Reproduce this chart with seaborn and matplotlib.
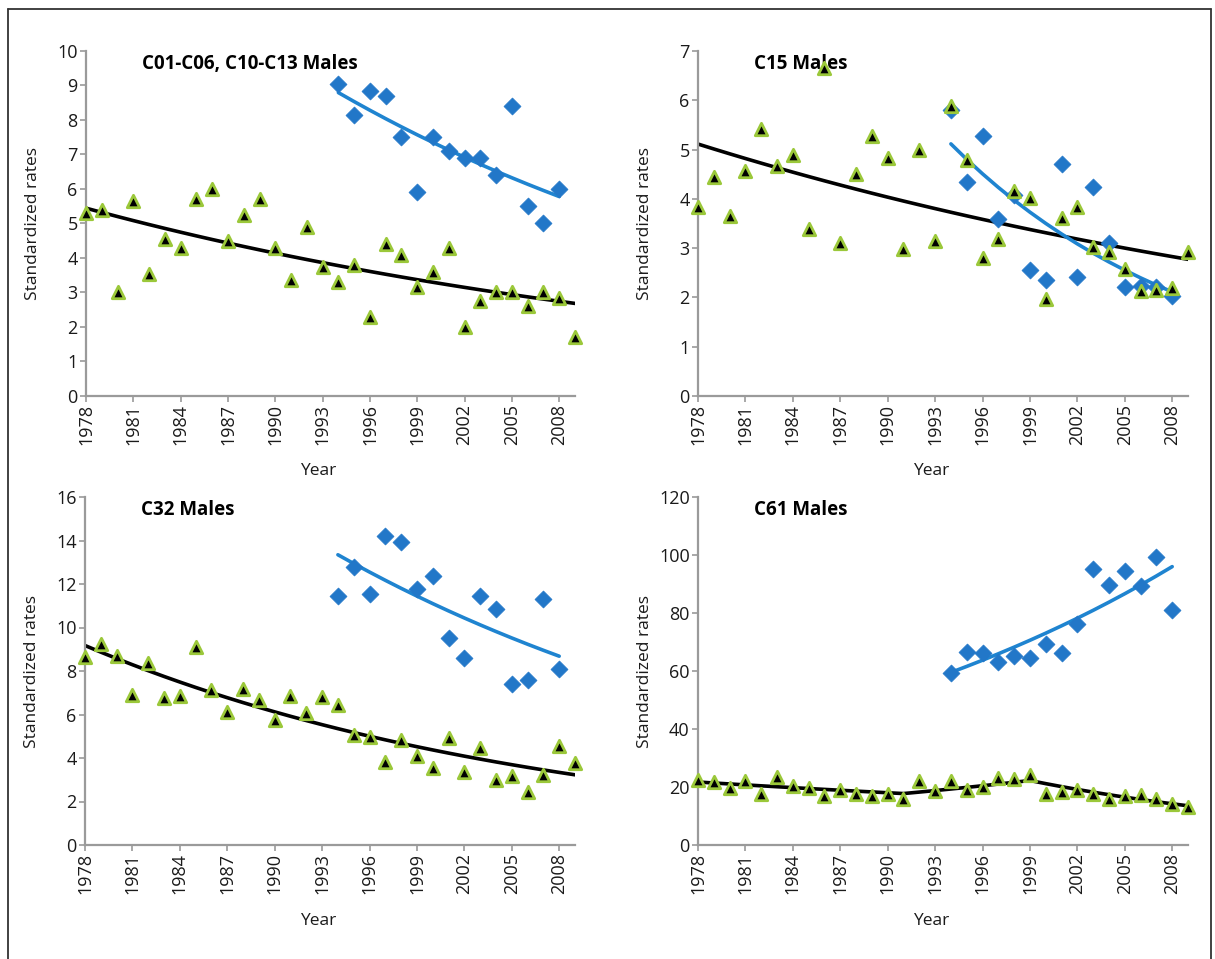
import numpy as np
import pandas as pd
import matplotlib
matplotlib.use("Agg")
import matplotlib.pyplot as plt
import seaborn as sns
from matplotlib.lines import Line2D

# ---------------- data ----------------
years_all = list(range(1978, 2010))
years_recent = list(range(1994, 2009))

titles = ["C01-C06, C10-C13 Males", "C15 Males", "C32 Males", "C61 Males"]

c01_all = [5.3, 5.4, 3.0, 5.65, 3.55, 4.55, 4.3, 5.7, 6.0, 4.5, 5.25, 5.7, 4.3, 3.35, 4.9, 3.75,
           3.3, 3.8, 2.3, 4.4, 4.1, 3.15, 3.6, 4.3, 2.0, 2.75, 3.0, 3.0, 2.6, 3.0, 2.85, 1.7]
c01_recent = [9.05, 8.15, 8.85, 8.7, 7.5, 5.9, 7.5, 7.1, 6.9, 6.9, 6.4, 8.4, 5.5, 5.0, 6.0]

c15_all = [3.83, 4.44, 3.65, 4.57, 5.42, 4.66, 4.88, 3.38, 6.65, 3.11, 4.5, 5.27, 4.82, 2.99, 5.0, 3.14,
           5.88, 4.79, 2.8, 3.18, 4.15, 4.02, 1.97, 3.62, 3.83, 3.02, 2.93, 2.58, 2.14, 2.15, 2.2, 2.93]
c15_recent = [5.81, 4.34, 5.28, 3.59, 4.07, 2.56, 2.36, 4.7, 2.41, 4.25, 3.11, 2.22, 2.24, 2.21, 2.02]

c32_all = [8.64, 9.23, 8.7, 6.88, 8.35, 6.77, 6.83, 9.09, 7.11, 6.1, 7.19, 6.65, 5.75, 6.85, 6.07, 6.79,
           6.45, 5.07, 4.95, 3.82, 4.82, 4.11, 3.55, 4.9, 3.37, 4.48, 2.98, 3.17, 2.44, 3.21, 4.53, 3.79]
c32_recent = [11.44, 12.8, 11.56, 14.2, 13.91, 11.79, 12.35, 9.52, 8.61, 11.44, 10.85, 7.42, 7.57, 11.33, 8.08]

c61_all = [22.4, 21.7, 19.7, 22.0, 17.6, 23.4, 20.5, 19.6, 16.8, 18.9, 17.7, 16.9, 17.7, 15.7, 22.0, 18.5,
           22.0, 18.8, 19.9, 23.2, 22.8, 24.1, 17.6, 18.2, 19.0, 17.7, 15.8, 16.9, 17.4, 15.9, 14.3, 13.0]
c61_recent = [59.4, 66.7, 66.3, 63.2, 65.2, 64.6, 69.3, 66.3, 76.3, 95.3, 89.6, 94.5, 89.3, 99.2, 80.9]

series_all = [c01_all, c15_all, c32_all, c61_all]
series_recent = [c01_recent, c15_recent, c32_recent, c61_recent]
trend_knots_all = [[], [], [], [1991, 1999]]
ylims = [10, 7, 16, 120]
ysteps = [1, 1, 2, 20]


def poisson_trend(x, y, knots=()):
    """Log-linear (Poisson-type) trend fitted by IRLS, optional joinpoints."""
    x = np.asarray(x, float)
    y = np.asarray(y, float)
    cols = [np.ones_like(x), x - x[0]] + [np.maximum(x - k, 0) for k in knots]
    X = np.column_stack(cols)
    mu = y.copy()
    eta = np.log(mu)
    for _ in range(50):
        z = eta + (y - mu) / mu
        w = np.sqrt(mu)
        coef, *_ = np.linalg.lstsq(X * w[:, None], z * w, rcond=None)
        eta = X @ coef
        mu = np.exp(eta)
    return mu


# ---------------- style ----------------
sns.set_theme(style="white")
plt.rcParams['font.family'] = ['Open Sans', 'DejaVu Sans']

W, H = 1215, 959
fig = plt.figure(figsize=(W / 100, H / 100), dpi=100)

positions = [
    [86 / W, 1 - 396 / H, 489 / W, 345 / H],
    [698 / W, 1 - 396 / H, 490 / W, 345 / H],
    [85 / W, 1 - 845 / H, 490 / W, 348 / H],
    [698 / W, 1 - 845 / H, 490 / W, 348 / H],
]

GREEN = "#9bc83a"
BLUE = "#2277c8"
BLUE_LINE = "#1f84d0"
SPINE = "#9a9a9a"

for i in range(4):
    ax = fig.add_axes(positions[i])
    df_all = pd.DataFrame({"Year": years_all, "rate": series_all[i]})
    df_rec = pd.DataFrame({"Year": years_recent, "rate": series_recent[i]})
    df_all["trend"] = poisson_trend(df_all["Year"], df_all["rate"], trend_knots_all[i])
    df_rec["trend"] = poisson_trend(df_rec["Year"], df_rec["rate"])

    sns.lineplot(data=df_all, x="Year", y="trend", color="black", lw=2.6, ax=ax, zorder=2)
    sns.lineplot(data=df_rec, x="Year", y="trend", color=BLUE_LINE, lw=2.6, ax=ax, zorder=2)
    sns.scatterplot(data=df_rec, x="Year", y="rate", marker="D", s=75, color=BLUE,
                    edgecolor=BLUE, linewidth=0.5, ax=ax, zorder=3)
    sns.scatterplot(data=df_all, x="Year", y="rate", marker="^", s=80, color="black",
                    edgecolor=GREEN, linewidth=2.0, ax=ax, zorder=4, clip_on=False)

    ax.set_xlim(1978, 2009)
    ax.set_ylim(0, ylims[i])
    ax.set_xticks(list(range(1978, 2009, 3)))
    yt = np.arange(0, ylims[i] + 0.001, ysteps[i])
    ax.set_yticks(yt)
    ax.set_yticklabels([f"{int(v)}" for v in yt])
    ax.tick_params(axis="x", rotation=90)
    ax.tick_params(axis="both", direction="out", length=4, width=1.2, color=SPINE,
                   labelsize=13, labelcolor="#1a1a1a", pad=2, bottom=True, left=True)
    for s in ["top", "right"]:
        ax.spines[s].set_visible(False)
    for s in ["left", "bottom"]:
        ax.spines[s].set_color(SPINE)
        ax.spines[s].set_linewidth(1.6)

    ax.set_xlabel("Year", fontsize=12.5, color="#1a1a1a")
    ax.set_ylabel("Standardized rates", fontsize=12.5, color="#1a1a1a")
    ax.xaxis.set_label_coords(0.475, -0.195)
    ax.yaxis.set_label_coords(-0.092, 0.5)
    ax.text(0.114, 0.962, titles[i], transform=ax.transAxes, fontsize=13.5,
            fontweight="bold", ha="left", va="center", color="black")

# outer frame (left, top, right)
fx0, fx1, fy = 8 / W, 1211 / W, 1 - 9 / H
for xs, ys in [([fx0, fx0], [0, fy]), ([fx0, fx1], [fy, fy]), ([fx1, fx1], [fy, 0])]:
    fig.add_artist(Line2D(xs, ys, transform=fig.transFigure, color="#333333", lw=1.3))

fig.savefig("out.png", dpi=100)
